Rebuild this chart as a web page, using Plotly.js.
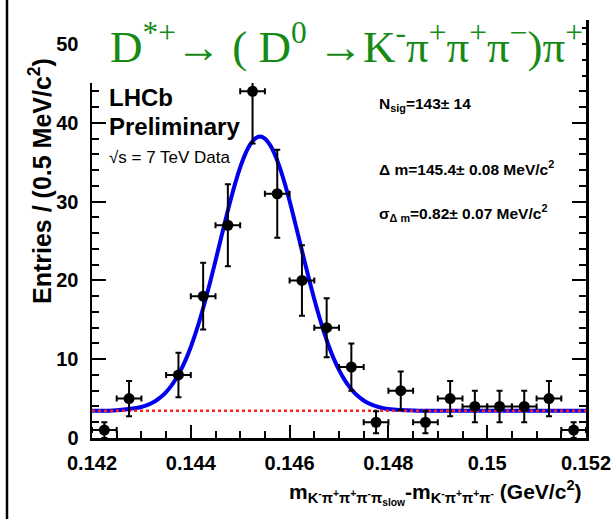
<!DOCTYPE html>
<html>
<head>
<meta charset="utf-8">
<script src="https://cdn.plot.ly/plotly-3.0.1.min.js"></script>
<style>html,body{margin:0;padding:0;background:#fff;}#plot{width:616px;height:519px;}</style>
</head>
<body>
<div id="plot"></div>
<script>
// ---- data ----
var binCenters = [0.14225,0.14275,0.14325,0.14375,0.14425,0.14475,0.14525,0.14575,0.14625,0.14675,
                  0.14725,0.14775,0.14825,0.14875,0.14925,0.14975,0.15025,0.15075,0.15125,0.15175];
var binCounts  = [1,5,0,8,18,27,44,31,20,14,9,2,6,2,5,4,4,4,5,1];
var binErrors  = [1,2.24,0,2.83,4.24,5.2,6.63,5.57,4.47,3.74,3,1.41,2.45,1.41,2.24,2,2,2,2.24,1];
var binHalfWidth = 0.00025;

// fit curve (total) sampled along the drawn line
var fitX = [0.1420,0.1425,0.1430,0.1431,0.1432,0.1433,0.1434,0.1435,0.1436,0.1437,0.1438,0.1439,
            0.1440,0.1441,0.1442,0.1443,0.1444,0.1445,0.1446,0.1447,0.1448,0.1449,0.1450,0.1451,
            0.1452,0.1453,0.1454,0.1455,0.1456,0.1457,0.1458,0.1459,0.1460,0.1461,0.1462,0.1463,
            0.1464,0.1465,0.1466,0.1467,0.1468,0.1469,0.1470,0.1471,0.1472,0.1473,0.1474,0.1475,
            0.1476,0.1477,0.1478,0.1479,0.1480,0.1485,0.1490,0.1500,0.1510,0.1520];
var fitY = [3.46,3.52,3.93,4.13,4.40,4.76,5.23,5.83,6.58,7.51,8.64,9.98,
            11.55,13.36,15.39,17.61,19.99,22.49,25.07,27.61,30.07,32.34,34.35,36.00,
            37.23,37.99,38.25,37.99,37.23,36.00,34.35,32.34,30.07,27.61,25.07,22.49,
            19.99,17.61,15.39,13.36,11.55,9.98,8.64,7.51,6.58,5.83,5.23,4.76,
            4.40,4.13,3.93,3.78,3.68,3.48,3.46,3.45,3.45,3.45];
// background component
var bkgX = [0.1420,0.1520];
var bkgY = [3.45,3.45];

var xTickVals = [0.142,0.144,0.146,0.148,0.150,0.152];
var xTickText = ["0.142","0.144","0.146","0.148","0.15","0.152"];
var yTickVals = [0,10,20,30,40,50];
var yTickText = ["0","10","20","30","40","50"];

// ---- build ----
var px = [], py = [], pe = [];
for (var i = 0; i < binCenters.length; i++) {
  if (binCounts[i] > 0) { px.push(binCenters[i]); py.push(binCounts[i]); pe.push(binErrors[i]); }
}

var ROOTFONT = '"Liberation Sans", Arial, Helvetica, sans-serif';

var traces = [
  {x: fitX, y: fitY, mode: 'lines', line: {color: '#0000ee', width: 4, shape: 'spline'}, hoverinfo: 'skip'},
  {x: bkgX, y: bkgY, mode: 'lines', line: {color: '#ff2020', width: 2.5, dash: 'dot'}, hoverinfo: 'skip'},
  {x: px, y: py, mode: 'markers', marker: {color: 'black', size: 11},
   error_y: {type: 'data', array: pe, visible: true, color: 'black', thickness: 2, width: 3},
   error_x: {type: 'constant', value: binHalfWidth, visible: true, color: 'black', thickness: 2, width: 3}}
];

function xp(p){ return (p - 92) / 494; }
function yp(p){ return (438 - p) / 418; }

var layout = {
  width: 616, height: 519,
  margin: {l: 92, r: 30, t: 20, b: 81},
  paper_bgcolor: 'white', plot_bgcolor: 'white',
  showlegend: false,
  xaxis: {
    range: [0.142, 0.152], showgrid: false, zeroline: false,
    showline: true, linecolor: 'black', linewidth: 2.5, mirror: false,
    ticks: 'inside', ticklen: 13, tickwidth: 2, tickcolor: 'black',
    tickvals: xTickVals, ticktext: xTickText,
    ticklabelstandoff: 5,
    tickfont: {family: ROOTFONT, size: 20, color: 'black', weight: 'bold'},
    minor: {dtick: 0.0005, tick0: 0.142, ticks: 'inside', ticklen: 7, tickwidth: 2, tickcolor: 'black'}
  },
  yaxis: {
    range: [0, 53.05], showgrid: false, zeroline: false,
    showline: true, linecolor: 'black', linewidth: 2.5, mirror: 'ticks',
    ticks: 'inside', ticklen: 14, tickwidth: 2, tickcolor: 'black',
    tickvals: yTickVals, ticktext: yTickText,
    ticklabelstandoff: 7,
    tickfont: {family: ROOTFONT, size: 20, color: 'black', weight: 'bold'},
    minor: {dtick: 2, tick0: 0, ticks: 'inside', ticklen: 7, tickwidth: 2, tickcolor: 'black'}
  },
  shapes: [
    {type: 'rect', xref: 'paper', yref: 'paper', layer: 'above',
     x0: xp(84), x1: xp(582), y0: yp(83), y1: yp(-5),
     fillcolor: 'white', line: {width: 0}},
    {type: 'line', xref: 'paper', yref: 'paper', layer: 'above',
     x0: xp(7), x1: xp(7), y0: yp(-2), y1: yp(521),
     line: {color: 'black', width: 2.5}}
  ],
  annotations: [
    {xref: 'paper', yref: 'paper', x: xp(346), y: yp(44), xanchor: 'center', yanchor: 'middle', showarrow: false,
     text: 'D<sup>*+</sup>\u2192 ( D<sup>0</sup> \u2192K<sup>-</sup>\u03c0<sup>+</sup>\u03c0<sup>+</sup>\u03c0<sup>\u2212</sup>)\u03c0<sup>+</sup>',
     font: {family: '"Liberation Serif", "Times New Roman", serif', size: 45, color: '#158a15'}},
    {xref: 'paper', yref: 'paper', x: xp(107), y: yp(97), xanchor: 'left', yanchor: 'middle', showarrow: false,
     text: 'LHCb', font: {family: ROOTFONT, size: 24, color: 'black', weight: 'bold'}},
    {xref: 'paper', yref: 'paper', x: xp(107), y: yp(126), xanchor: 'left', yanchor: 'middle', showarrow: false,
     text: 'Preliminary', font: {family: ROOTFONT, size: 24, color: 'black', weight: 'bold'}},
    {xref: 'paper', yref: 'paper', x: xp(107), y: yp(158), xanchor: 'left', yanchor: 'middle', showarrow: false,
     text: '\u221as = 7 TeV Data', font: {family: ROOTFONT, size: 17, color: 'black'}},
    {xref: 'paper', yref: 'paper', x: xp(377), y: yp(104), xanchor: 'left', yanchor: 'middle', showarrow: false,
     text: 'N<sub>sig</sub>=143\u00b1 14', font: {family: ROOTFONT, size: 15.5, color: 'black', weight: 'bold'}},
    {xref: 'paper', yref: 'paper', x: xp(377), y: yp(168), xanchor: 'left', yanchor: 'middle', showarrow: false,
     text: '\u0394 m=145.4\u00b1 0.08 MeV/c<sup>2</sup>', font: {family: ROOTFONT, size: 15.5, color: 'black', weight: 'bold'}},
    {xref: 'paper', yref: 'paper', x: xp(377), y: yp(213), xanchor: 'left', yanchor: 'middle', showarrow: false,
     text: '\u03c3<sub>\u0394 m</sub>=0.82\u00b1 0.07 MeV/c<sup>2</sup>', font: {family: ROOTFONT, size: 15.5, color: 'black', weight: 'bold'}},
    {xref: 'paper', yref: 'paper', x: xp(40), y: yp(181), xanchor: 'center', yanchor: 'middle', showarrow: false, textangle: -90,
     text: 'Entries / (0.5 MeV/c<sup>2</sup>)', font: {family: ROOTFONT, size: 25, color: 'black', weight: 'bold'}},
    {xref: 'paper', yref: 'paper', x: xp(584), y: yp(492), xanchor: 'right', yanchor: 'middle', showarrow: false,
     text: 'm<sub>K<sup>-</sup>\u03c0<sup>+</sup>\u03c0<sup>+</sup>\u03c0<sup>-</sup>\u03c0<sub>slow</sub></sub>-m<sub>K<sup>-</sup>\u03c0<sup>+</sup>\u03c0<sup>+</sup>\u03c0<sup>-</sup></sub> (GeV/c<sup>2</sup>)',
     font: {family: ROOTFONT, size: 21, color: 'black', weight: 'bold'}}
  ]
};

Plotly.newPlot('plot', traces, layout, {displayModeBar: false, staticPlot: true});
</script>
</body>
</html>
